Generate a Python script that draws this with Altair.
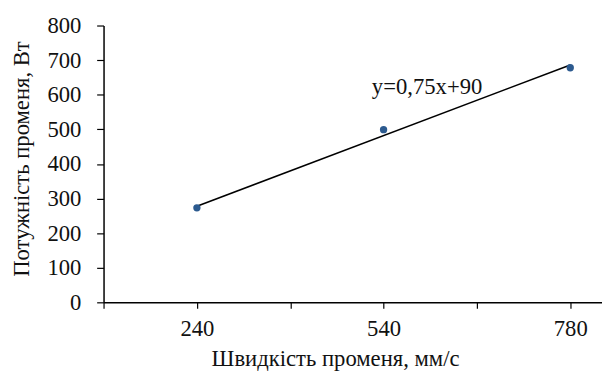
import altair as alt
import pandas as pd

speeds = ["240", "540", "780"]
positions = [1, 2, 3]
powers = [273, 499, 678]
trend_x = [1, 3]
trend_y = [278, 686]
equation = "y=0,75x+90"
x_title = "Швидкість променя, мм/с"
y_title = "Потужність променя, Вт"

pts = pd.DataFrame({"pos": positions, "speed": speeds, "power": powers})
trend = pd.DataFrame({"pos": trend_x, "power": trend_y})
lab = pd.DataFrame({"pos": [2.233], "power": [603], "text": [equation]})

label_expr = " : ".join(
    f"datum.value == {p} ? '{s}'" for p, s in zip(positions, speeds)
) + " : ''"

font = "Liberation Serif"
fs = 23

xscale = alt.Scale(domain=[0.5, 3.17], nice=False, zero=False)
yscale = alt.Scale(domain=[0, 800], nice=False)

xaxis = alt.Axis(
    title=x_title,
    values=[0.5, 1, 1.5, 2, 2.5, 3],
    labelExpr=label_expr,
    labelOverlap=False,
    grid=False,
    domainColor="black",
    domainWidth=1.5,
    tickColor="black",
    tickSize=6,
    tickWidth=1.2,
    labelPadding=10,
    labelFont=font,
    labelFontSize=fs,
    labelColor="#111",
    titleFont=font,
    titleFontSize=fs,
    titleFontWeight="normal",
    titleColor="#111",
    titleX=235,
    titleY=64,
    titleBaseline="alphabetic",
    titleAlign="center",
)

yaxis = alt.Axis(
    title=y_title,
    values=[0, 100, 200, 300, 400, 500, 600, 700, 800],
    tickCount=9,
    labelOverlap=False,
    grid=False,
    domainColor="black",
    domainWidth=1.5,
    tickColor="black",
    tickSize=7,
    tickWidth=1.2,
    labelPadding=16,
    labelFont=font,
    labelFontSize=fs,
    labelColor="#111",
    titleFont=font,
    titleFontSize=fs,
    titleFontWeight="normal",
    titleColor="#111",
    titleX=-83,
    titleY=135,
    titleAngle=270,
    titleAlign="center",
    titleBaseline="middle",
)

points = alt.Chart(pts).mark_circle(size=55, color="#2C5A8F", opacity=1).encode(
    x=alt.X("pos:Q", scale=xscale, axis=xaxis),
    y=alt.Y("power:Q", scale=yscale, axis=yaxis),
)

line = alt.Chart(trend).mark_line(color="black", strokeWidth=1.6).encode(
    x=alt.X("pos:Q", scale=xscale, axis=xaxis),
    y=alt.Y("power:Q", scale=yscale, axis=yaxis),
)

text = alt.Chart(lab).mark_text(
    font=font, fontSize=fs, color="#111", align="center", baseline="alphabetic"
).encode(
    x=alt.X("pos:Q", scale=xscale, axis=xaxis),
    y=alt.Y("power:Q", scale=yscale, axis=yaxis),
    text="text:N",
)

chart = alt.layer(line, points, text).properties(
    width=506,
    height=281,
    autosize=alt.AutoSizeParams(type="none"),
    padding={"left": 97, "top": 15, "right": 0, "bottom": 72},
).configure(font=font).configure_view(stroke=None)

chart.save("out.html", embed_options={"renderer": "svg", "actions": False})
